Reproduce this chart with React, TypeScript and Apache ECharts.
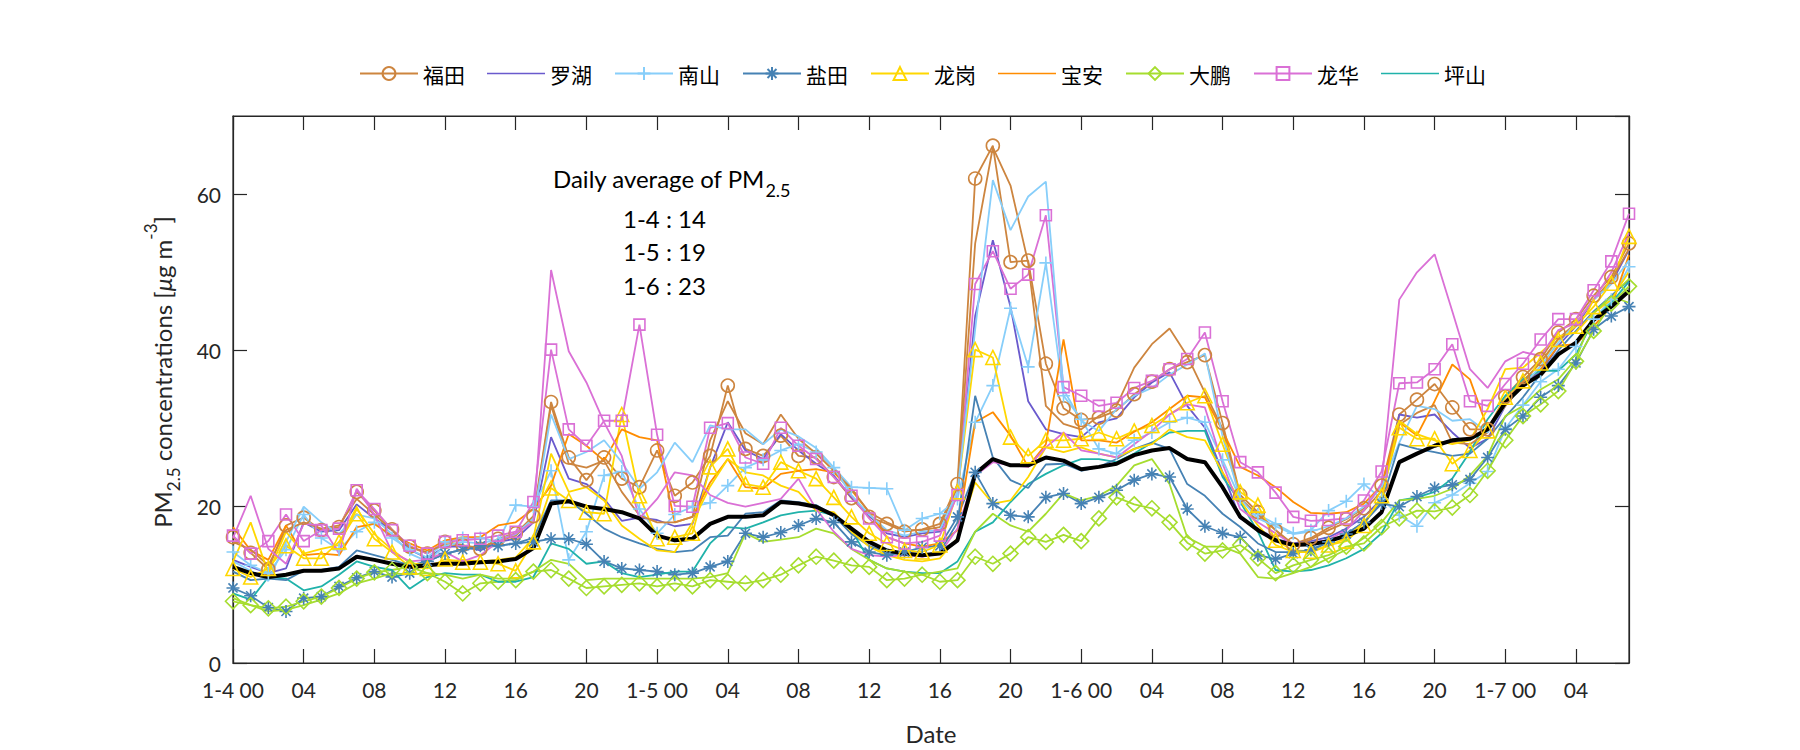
import React, { useEffect, useRef } from "react";
import * as echarts from "echarts";

// ---- data (hourly PM2.5, hour 0 = 1-4 00:00) ----
const startDay = 4;
const districts = ["福田", "罗湖", "南山", "盐田", "龙岗", "宝安", "大鹏", "龙华", "坪山"];

const futian = [16.1,14.1,12.0,17.6,18.6,17.0,17.4,21.9,19.5,17.1, 14.9,14.0,15.5,15.1,14.6,15.9,16.6,18.8,33.4,26.3, 23.4,26.3,23.6,22.5,27.2,21.4,23.1,26.5,35.5,27.4, 26.5,29.1,26.5,26.3,23.8,21.1,18.7,17.8,16.8,17.1, 17.8,22.9,62.0,66.2,51.3,51.5,38.3,32.6,31.1,31.4, 32.3,34.4,36.0,37.6,38.5,39.4,30.7,21.5,19.3,17.0, 15.2,16.0,17.3,18.4,19.8,22.7,31.8,33.7,35.7,32.7, 29.9,29.9,34.1,36.6,38.9,42.3,44.0,47.0,49.4,53.7];
const futian2 = [15.5,14.5,12.5,17.0,18.0,17.2,17.6,21.0,19.0,17.0, 14.8,14.2,15.2,15.0,14.8,15.6,16.3,18.5,33.0,25.5, 25.0,25.9,21.9,18.9,18.0,18.0,18.7,28.5,33.5,29.4, 28.0,31.8,28.7,26.8,24.6,22.3,19.3,18.0,17.0,17.0, 17.4,22.5,53.7,66.0,61.1,51.2,32.9,30.6,29.9,31.6, 32.9,37.8,40.8,42.8,39.3,34.6,30.0,21.0,19.0,17.0, 15.0,15.8,17.0,18.0,19.5,22.0,30.5,32.0,33.0,28.2, 28.0,29.5,33.5,36.0,38.5,41.5,43.5,46.5,49.0,53.0];
const luohu = [13.2,12.3,11.5,12.1,18.0,16.8,17.0,20.3,18.5,17.0, 14.5,13.4,14.9,14.9,14.4,15.5,15.9,18.0,28.9,23.6, 22.9,21.0,18.2,18.6,18.3,17.5,17.8,25.0,30.8,27.2, 26.1,29.3,27.2,25.5,24.0,21.2,18.9,16.6,16.1,16.6, 16.8,21.6,44.4,54.1,45.6,33.5,29.9,29.3,28.9,30.8, 31.3,34.0,35.9,37.2,32.9,30.1,24.4,18.5,17.2,15.9, 15.3,15.6,16.1,17.2,18.7,21.0,31.8,31.4,31.8,29.5, 27.5,28.7,32.9,35.9,37.2,40.6,43.1,46.5,48.6,52.9];
const nanshan = [14.2,12.5,11.5,14.5,19.0,16.0,14.5,16.8,18.0,16.0, 14.5,13.5,15.5,16.0,16.0,15.5,20.2,20.0,24.6,13.2, 16.8,24.0,24.5,19.7,16.6,19.0,20.0,20.5,22.7,25.0, 26.0,27.2,28.0,27.0,25.0,22.5,22.4,22.3,17.0,18.5, 19.1,21.0,30.8,35.5,45.4,37.9,51.2,34.2,31.2,27.4, 26.8,28.5,29.5,30.8,31.4,30.8,26.0,21.0,19.0,17.8, 16.6,17.0,19.5,20.7,22.9,21.0,18.9,17.5,20.5,21.5, 23.0,24.5,30.0,33.0,36.0,37.6,40.5,44.0,46.5,50.7];
const nanshan2 = [13.0,11.8,10.5,15.5,20.0,18.0,16.5,19.0,18.5,16.5, 14.0,13.0,15.0,15.5,15.3,15.8,16.5,18.5,31.8,26.1, 27.0,28.5,25.7,22.3,24.4,28.2,25.7,30.4,29.9,29.9, 28.0,29.9,29.0,27.5,25.0,21.5,19.0,17.0,16.3,16.8, 17.0,21.9,42.7,61.8,55.4,59.7,61.6,35.0,31.0,29.7, 32.5,34.2,35.2,36.9,38.2,39.6,29.0,21.0,18.5,17.5, 16.5,16.8,17.5,18.5,20.0,22.5,28.2,32.9,32.5,31.0, 31.2,29.5,33.0,35.5,38.0,41.0,43.5,46.5,48.5,51.5];
const yantian = [9.6,8.6,7.1,6.6,8.3,8.5,9.8,10.9,11.7,11.0, 11.5,13.0,14.0,14.5,15.0,15.0,15.3,15.5,15.9,15.9, 15.2,13.0,12.1,11.9,11.7,11.3,11.5,12.3,13.0,16.6, 16.1,16.7,17.6,18.5,18.0,15.5,14.2,13.8,14.2,14.8, 15.0,18.7,24.4,20.4,18.9,18.7,21.2,21.7,20.4,21.2, 22.1,23.4,24.2,23.8,19.7,17.5,16.6,16.1,13.8,13.3, 14.0,14.5,15.5,16.5,18.0,20.4,20.0,21.3,22.4,22.8, 23.5,26.3,29.9,31.6,34.0,35.5,38.4,42.7,44.4,45.6];
const yantian2 = [11.7,10.6,10.8,10.6,11.8,11.9,12.3,14.4,13.8,13.2, 12.5,13.0,14.0,14.5,14.8,15.0,15.3,16.0,20.8,20.8, 19.1,17.2,16.1,15.3,14.6,14.2,14.4,16.1,16.3,19.1, 19.3,20.8,20.6,20.2,18.9,16.5,15.0,14.2,13.8,13.8, 14.2,18.0,34.2,26.3,23.4,22.4,25.4,25.5,24.6,25.1, 26.1,27.4,28.2,27.4,22.9,21.4,19.1,17.4,15.3,14.2, 14.2,14.4,15.5,16.5,18.0,20.6,28.0,27.4,27.0,26.5, 26.8,28.7,31.5,34.0,37.0,40.0,42.5,45.0,47.0,49.0];
const longgang = [12.1,11.0,12.1,15.0,13.4,13.4,15.5,19.1,15.9,14.2, 12.3,12.1,13.3,12.9,12.9,12.7,11.8,15.5,22.4,20.8, 19.3,19.1,31.8,21.4,15.9,16.1,16.6,25.1,27.4,22.9, 22.5,25.7,24.6,23.6,21.2,18.7,16.6,15.3,14.4,14.2, 15.1,21.9,40.1,39.1,28.9,26.5,28.5,28.5,28.7,29.5, 28.7,29.7,30.4,31.8,33.3,34.2,28.0,21.9,20.2,15.7, 14.4,14.3,15.1,15.6,17.6,21.4,30.1,28.7,28.7,25.5, 27.2,29.7,34.0,36.1,38.4,41.4,43.1,45.6,48.6,54.6];
const longgang2 = [13.0,18.0,11.5,16.8,14.0,14.6,15.1,19.7,16.5,14.5, 12.8,12.5,13.0,13.2,13.0,13.2,13.5,16.0,26.8,21.9, 22.5,20.8,17.6,15.9,14.4,14.2,18.0,22.6,26.1,24.4, 24.0,22.7,21.9,19.5,19.3,16.8,14.9,13.8,13.2,13.0, 13.4,16.0,23.1,20.4,20.8,23.8,27.6,27.0,27.6,26.8, 26.3,27.4,28.0,29.9,28.9,28.5,24.4,20.8,17.6,15.1, 14.2,14.2,15.0,16.0,18.0,21.0,31.0,29.3,28.5,28.0, 28.5,32.5,37.6,37.8,39.7,41.8,42.3,44.8,46.5,50.1];
const baoan = [17.4,14.4,13.2,17.6,13.8,14.0,13.8,17.4,17.8,16.3, 15.3,14.4,15.7,16.1,16.1,17.6,18.0,19.7,22.7,29.3, 27.8,25.9,29.9,28.9,28.5,18.0,18.7,23.1,26.1,22.5, 22.3,24.2,24.6,24.8,24.4,22.1,19.3,16.1,15.3,14.9, 15.3,17.0,30.8,32.1,29.1,25.1,28.0,41.4,28.5,28.5, 28.2,29.6,30.8,32.5,34.2,34.0,29.7,25.1,24.0,22.5, 20.6,19.2,19.1,19.3,20.4,22.7,30.8,29.1,33.5,38.2, 36.3,30.0,32.9,35.9,37.6,40.6,40.8,43.1,45.6,52.2];
const dapeng = [7.9,7.4,7.0,7.2,7.9,8.5,9.6,10.8,11.6,11.9, 12.3,11.5,10.4,8.9,10.2,10.4,10.6,11.7,11.9,10.8, 9.6,9.8,10.0,10.2,9.8,10.2,9.8,10.6,10.4,10.2, 10.6,11.3,12.5,13.6,13.1,12.5,12.3,10.6,10.8,11.3, 10.4,10.6,13.6,12.7,14.0,16.1,15.5,16.4,15.6,18.5, 21.2,20.3,19.8,18.0,15.4,14.0,14.4,15.1,13.4,11.5, 12.5,13.2,13.8,14.9,15.3,17.4,18.5,19.5,19.4,19.9, 21.5,24.6,28.5,31.6,33.1,34.8,38.6,42.5,46.0,48.2];
const dapeng2 = [8.3,7.4,6.6,6.8,7.4,8.1,8.9,10.2,10.8,11.5, 11.3,11.5,11.3,10.8,11.3,10.8,10.8,11.7,13.2,12.7, 10.6,10.8,10.8,10.8,10.8,10.8,10.8,11.0,11.5,16.6, 15.5,15.8,16.1,17.2,16.6,14.6,13.2,12.1,11.7,11.3, 11.7,12.1,16.8,19.1,17.6,16.8,19.1,21.7,20.8,21.4, 22.7,25.3,26.1,22.9,16.1,14.9,14.9,14.0,11.0,10.8, 11.5,12.3,13.4,14.5,16.0,18.0,20.8,21.0,21.4,22.3, 24.0,26.5,31.6,32.9,35.0,36.3,38.9,44.8,46.9,46.1];
const longhua = [16.3,14.0,15.6,19.0,15.6,17.0,17.2,22.1,19.7,17.0, 15.0,14.0,15.5,15.7,15.9,16.3,16.8,20.6,40.1,29.9, 27.8,31.0,31.0,43.3,29.2,20.1,20.0,30.1,30.7,26.3, 25.5,30.1,27.8,26.1,23.8,21.4,18.5,16.1,15.3,15.5, 16.3,21.5,48.5,52.7,47.9,49.7,57.3,35.3,34.2,32.9, 33.3,35.2,36.1,37.6,38.9,42.3,33.5,25.7,24.4,21.8, 18.7,18.2,18.3,18.5,20.8,24.5,35.8,35.9,37.6,40.8, 33.5,32.9,35.7,38.3,41.4,44.0,44.0,47.7,51.4,57.5];
const longhua2 = [16.0,21.4,14.6,12.7,17.8,17.6,14.0,22.3,19.0,14.2, 13.0,13.2,14.2,13.0,13.8,15.5,16.6,18.0,50.3,39.9, 35.9,30.8,26.5,18.5,21.0,24.4,24.0,21.5,20.5,20.0, 20.5,21.0,23.6,19.7,16.8,14.6,13.8,13.6,13.8,13.6, 14.0,17.2,24.0,25.7,25.3,25.1,27.6,29.5,27.2,26.8, 26.3,28.0,29.7,31.8,33.1,32.7,25.5,19.7,18.0,16.6, 15.1,15.3,15.8,17.0,19.5,23.0,46.5,50.0,52.3,45.0, 37.6,35.2,38.6,39.8,39.3,42.6,43.5,46.5,50.0,55.0];
const pingshan = [8.9,8.1,11.0,10.8,9.3,9.8,11.3,13.0,12.3,11.9, 9.5,11.0,11.5,11.3,11.3,10.4,10.4,11.0,15.3,14.6, 12.7,13.0,11.5,11.0,11.3,11.7,11.7,15.3,17.4,17.2, 18.0,18.9,19.3,19.5,18.9,17.0,13.2,12.1,11.7,11.5, 11.5,13.0,16.8,18.0,20.6,22.9,24.2,25.3,26.1,26.1, 25.7,26.8,28.2,29.5,29.7,29.7,23.8,20.6,16.8,11.9, 11.7,11.9,12.5,13.4,14.6,16.6,20.8,21.2,21.9,23.6, 27.0,31.2,34.2,36.3,37.4,37.4,39.5,43.9,46.1,48.8];
const average = [12.3,11.5,11.0,11.3,11.8,11.8,12.1,13.6,13.2,12.7, 12.3,12.5,12.7,12.7,12.9,13.0,13.3,14.7,20.4,20.7, 20.0,19.7,19.3,18.5,16.3,15.7,15.9,17.8,18.7,18.7, 18.9,20.6,20.4,20.0,18.9,17.2,15.5,14.4,14.0,13.8, 14.0,15.7,24.2,26.1,25.3,25.3,26.3,25.9,24.8,25.1, 25.5,26.6,27.2,27.5,26.1,25.7,22.5,18.7,17.0,15.7, 15.1,15.2,15.6,16.3,17.2,19.3,25.7,26.8,27.8,28.5, 28.7,29.9,33.3,35.5,36.9,39.5,41.0,43.9,45.6,47.6];

const dailyLabels = ["1-4 : 14", "1-5 : 19", "1-6 : 23"];
const yTicks = [0, 20, 40, 60];
const xTickStep = 4;

// ---- styling ----
const FONT = "Lato, 'Noto Sans CJK SC', sans-serif";
const AXIS = "#262626";
const colors: Record<string, string> = {
  福田: "#CD853F", 罗湖: "#6A5ACD", 南山: "#87CEFA", 盐田: "#4682B4", 龙岗: "#FFD700",
  宝安: "#FF8C00", 大鹏: "#A6DD2F", 龙华: "#DA70D6", 坪山: "#20B2AA",
};
const PLUS = "path://M0,-1L0,1M-1,0L1,0";
const STAR = "path://M0,-1L0,1M-1,0L1,0M-0.7,-0.7L0.7,0.7M-0.7,0.7L0.7,-0.7";
const BAR = "path://M0,0L60,0L60,1.8L0,1.8Z";
const plainLines = ["罗湖", "宝安", "坪山"];

const toPairs = (arr: number[]) => arr.map((v, i) => [i, v]);

function lineSeries(name: string, colorKey: string, data: number[], symbol?: string, size?: number, width = 1.8) {
  const c = colorKey === "avg" ? "#000" : colors[colorKey];
  return {
    type: "line",
    name,
    data: toPairs(data),
    showSymbol: !!symbol,
    symbol: symbol || "none",
    symbolSize: size || 10,
    lineStyle: { color: c, width },
    itemStyle: { color: "rgba(255,255,255,0)", borderColor: c, borderWidth: 1.6 },
    color: c,
    silent: true,
    emphasis: { disabled: true },
  };
}

const xLabel = (v: number) => {
  if (v % 24 === 0) return `1-${startDay + v / 24} 00`;
  return String(v % 24).padStart(2, "0");
};

const mkLine = () => ({ show: true, onZero: false, lineStyle: { color: AXIS, width: 1.2 } });
const mkTick = () => ({ show: true, inside: true, length: 14, lineStyle: { color: AXIS, width: 1.2 } });

export default function App() {
  const ref = useRef<HTMLDivElement>(null);
  useEffect(() => {
    document.body.style.margin = "0";
    const chart = echarts.init(ref.current!, undefined, { renderer: "svg", width: 1800, height: 750 });
    const series = [
      lineSeries("福田", "福田", futian, "circle", 13),
      lineSeries("罗湖", "罗湖", luohu),
      lineSeries("南山", "南山", nanshan, PLUS, 13),
      lineSeries("盐田", "盐田", yantian, STAR, 13),
      lineSeries("龙岗", "龙岗", longgang, "triangle", 14),
      lineSeries("宝安", "宝安", baoan),
      lineSeries("大鹏", "大鹏", dapeng, "diamond", 15),
      lineSeries("龙华", "龙华", longhua, "rect", 11),
      lineSeries("坪山", "坪山", pingshan),
      lineSeries("福田站2", "福田", futian2),
      lineSeries("南山站2", "南山", nanshan2),
      lineSeries("盐田站2", "盐田", yantian2),
      lineSeries("龙岗站2", "龙岗", longgang2),
      lineSeries("大鹏站2", "大鹏", dapeng2),
      lineSeries("龙华站2", "龙华", longhua2),
      lineSeries("平均", "avg", average, undefined, undefined, 4),
    ];
    const legendData = districts.map((d) =>
      plainLines.includes(d)
        ? { name: d, icon: BAR, itemStyle: { color: colors[d], borderWidth: 0 } }
        : { name: d }
    );
    chart.setOption({
      animation: false,
      backgroundColor: "#fff",
      textStyle: { fontFamily: FONT },
      grid: { left: 233, right: 171, top: 116, bottom: 85, show: true, borderColor: AXIS, borderWidth: 1.2, backgroundColor: "rgba(0,0,0,0)" },
      legend: {
        data: legendData,
        left: 354,
        top: 58,
        itemWidth: 58,
        itemHeight: 16,
        itemGap: 22,
        symbolKeepAspect: true,
        textStyle: { fontSize: 21, color: "#000", fontFamily: "'Noto Sans CJK SC', sans-serif" },
      },
      xAxis: [
        {
          type: "value", min: 0, max: 79, interval: xTickStep, position: "bottom",
          axisLine: mkLine(), axisTick: mkTick(), splitLine: { show: false },
          axisLabel: { formatter: xLabel, fontSize: 21, color: AXIS, margin: 16, showMaxLabel: false },
          name: "Date", nameLocation: "middle", nameGap: 58,
          nameTextStyle: { fontSize: 24, color: AXIS },
        },
        {
          type: "value", min: 0, max: 79, interval: xTickStep, position: "top",
          axisLine: mkLine(), axisTick: mkTick(), splitLine: { show: false },
          axisLabel: { show: false },
        },
      ],
      yAxis: [
        {
          type: "value", min: yTicks[0], max: 70, interval: yTicks[1] - yTicks[0], position: "left",
          axisLine: mkLine(), axisTick: mkTick(), splitLine: { show: false },
          axisLabel: { fontSize: 21, color: AXIS, margin: 12, showMaxLabel: false },
        },
        {
          type: "value", min: yTicks[0], max: 70, interval: yTicks[1] - yTicks[0], position: "right",
          axisLine: mkLine(), axisTick: mkTick(), splitLine: { show: false },
          axisLabel: { show: false },
        },
      ],
      graphic: [
        {
          type: "text", x: 162, y: 372, rotation: Math.PI / 2,
          style: {
            text: "{n|PM}{s|2.5}{n| concentrations [}{i|μ}{n|g m}{p|-3}{n|]}",
            x: 0, y: 0, textAlign: "center", textVerticalAlign: "middle", fill: AXIS,
            rich: {
              n: { fontSize: 24, lineHeight: 40, fontFamily: FONT, fill: AXIS },
              i: { fontSize: 24, lineHeight: 40, fontFamily: FONT, fontStyle: "italic", fill: AXIS },
              s: { fontSize: 17, verticalAlign: "bottom", fontFamily: FONT, fill: AXIS },
              p: { fontSize: 17, verticalAlign: "top", fontFamily: FONT, fill: AXIS },
            },
          },
        },
        {
          type: "text", x: 553, y: 178,
          style: {
            text: "{n|Daily average of PM}{s|2.5}",
            x: 0, y: 0, textAlign: "left", textVerticalAlign: "middle", fill: "#000",
            rich: {
              n: { fontSize: 24, lineHeight: 42, fontFamily: FONT, fill: "#000" },
              s: { fontSize: 18, verticalAlign: "bottom", fontFamily: FONT, fill: "#000" },
            },
          },
        },
        ...dailyLabels.map((t, k) => ({
          type: "text", x: 623, y: 218 + k * 33.5,
          style: { text: t, x: 0, y: 0, textAlign: "left", textVerticalAlign: "middle", fontSize: 24, fontFamily: FONT, fill: "#000" },
        })),
      ],
      series,
    });
    return () => chart.dispose();
  }, []);
  return <div ref={ref} style={{ position: "absolute", left: 0, top: 0, width: 1800, height: 750, background: "#fff" }} />;
}
